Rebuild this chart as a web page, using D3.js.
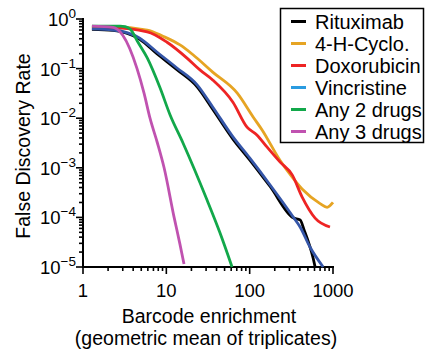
<!DOCTYPE html>
<html>
<head>
<meta charset="utf-8">
<script src="https://cdn.jsdelivr.net/npm/d3@7"></script>
<style>
  body { margin: 0; background: #fff; }
  svg { font-family: "Liberation Sans", Arial, sans-serif; }
</style>
</head>
<body>
<svg id="chart" width="425" height="356"></svg>
<script>
// data: [barcode enrichment, FDR]
var rituximab = [[1.28,0.62],[2.3,0.59],[4.8,0.39],[7.7,0.2],[13.4,0.095],[23.4,0.043],[36,0.0152],[63,0.0038],[100,0.00145],[176,0.00042],[333,0.000098],[403,0.000089],[450,0.000056],[578,0.000015],[610,0.00001]];
var cyclo = [[1.28,0.66],[2.3,0.69],[5.9,0.6],[9.1,0.45],[14.6,0.3],[20.9,0.19],[36,0.085],[71,0.032],[110,0.0106],[141,0.0058],[232,0.0014],[331,0.00062],[435,0.00036],[700,0.00019],[850,0.00016],[1000,0.0002]];
var doxorubicin = [[1.28,0.66],[2.3,0.66],[5.9,0.55],[10.2,0.34],[17.7,0.163],[25.3,0.094],[36,0.059],[63,0.021],[93,0.0066],[122,0.0046],[162,0.0026],[232,0.0013],[324,0.00072],[425,0.00026],[610,0.000097],[920,0.000064]];
var vincristine = [[1.28,0.63],[2.3,0.6],[4.8,0.41],[7.7,0.216],[13.4,0.103],[23.4,0.047],[36,0.0168],[63,0.0042],[100,0.00158],[176,0.00045],[333,0.000102],[403,0.000064],[531,0.000025],[762,0.00001]];
var any2 = [[1.28,0.72],[2.8,0.72],[3.2,0.7],[3.7,0.62],[4.57,0.34],[5.9,0.164],[8.4,0.041],[11.1,0.0116],[15.8,0.0032],[30.8,0.000224],[44,0.000049],[61.5,0.00001]];
var any3 = [[1.28,0.72],[2.3,0.68],[3.0,0.47],[4.45,0.1],[5.4,0.032],[6.37,0.01],[7.8,0.0032],[9.4,0.001],[12.4,0.0001],[14.5,0.00003],[16.3,0.0000115]];

var seriesNames = ["Rituximab", "4-H-Cyclo.", "Doxorubicin", "Vincristine", "Any 2 drugs", "Any 3 drugs"];
var seriesData = [rituximab, cyclo, doxorubicin, vincristine, any2, any3];
var lineColors = ["#000000", "#e6a423", "#ee2424", "#3556a8", "#12a84a", "#c052b0"];
var legendColors = ["#000000", "#e6a423", "#ee2424", "#2a9be0", "#12a84a", "#c052b0"];
var drawOrder = [1, 2, 0, 3, 4, 5];

var xTicks = [1, 10, 100, 1000];
var yExps = [0, -1, -2, -3, -4, -5];

var svg = d3.select("#chart");

var x = d3.scaleLog().domain([1, 1000]).range([83, 333]);
var y = d3.scaleLog().domain([1e-5, 1]).range([267, 19]);

// minor ticks
var xMinor = [], yMinor = [];
for (var d = 1; d < 1000; d *= 10)
  for (var k = 2; k <= 9; k++) xMinor.push(d * k);
for (var e = -5; e < 0; e++)
  for (var k = 2; k <= 9; k++) yMinor.push(k * Math.pow(10, e));

var axes = svg.append("g").attr("stroke", "#000").attr("stroke-width", 1.6);

axes.selectAll("line.xmin").data(xMinor).enter().append("line")
  .attr("x1", d => x(d)).attr("x2", d => x(d))
  .attr("y1", 267).attr("y2", 271);
axes.selectAll("line.xmaj").data(xTicks).enter().append("line")
  .attr("x1", d => x(d)).attr("x2", d => x(d))
  .attr("y1", 267).attr("y2", 274);
axes.selectAll("line.ymin").data(yMinor).enter().append("line")
  .attr("x1", 83).attr("x2", 79)
  .attr("y1", d => y(d)).attr("y2", d => y(d));
axes.selectAll("line.ymaj").data(yExps).enter().append("line")
  .attr("x1", 83).attr("x2", 76)
  .attr("y1", d => y(Math.pow(10, d))).attr("y2", d => y(Math.pow(10, d)));

axes.append("line").attr("x1", 83).attr("x2", 83).attr("y1", 18).attr("y2", 268).attr("stroke-width", 2);
axes.append("line").attr("x1", 82).attr("x2", 334).attr("y1", 267).attr("y2", 267).attr("stroke-width", 2);

// x tick labels
svg.selectAll("text.xt").data(xTicks).enter().append("text")
  .attr("x", d => x(d)).attr("y", 297)
  .attr("text-anchor", "middle").attr("font-size", 18.5)
  .text(d => d);

// y tick labels 10^n
var yl = svg.selectAll("text.yt").data(yExps).enter().append("text")
  .attr("x", 76).attr("y", d => y(Math.pow(10, d)) + 7)
  .attr("text-anchor", "end").attr("font-size", 18.5);
yl.append("tspan").text("10");
yl.append("tspan").attr("font-size", 13.5).attr("dy", -8)
  .text(d => d === 0 ? "0" : "\u2212" + (-d));

// axis titles
svg.append("text").attr("transform", "translate(30,146) rotate(-90)")
  .attr("text-anchor", "middle").attr("font-size", 19.5)
  .text("False Discovery Rate");
svg.append("text").attr("x", 209).attr("y", 323)
  .attr("text-anchor", "middle").attr("font-size", 19.5)
  .text("Barcode enrichment");
svg.append("text").attr("x", 206).attr("y", 345)
  .attr("text-anchor", "middle").attr("font-size", 19.5)
  .text("(geometric mean of triplicates)");

// curves
var line = d3.line().x(d => x(d[0])).y(d => y(d[1])).curve(d3.curveMonotoneX);
svg.append("g").selectAll("path").data(drawOrder).enter().append("path")
  .attr("d", i => line(seriesData[i]))
  .attr("fill", "none")
  .attr("stroke", i => lineColors[i])
  .attr("stroke-width", 2.8)
  .attr("stroke-linejoin", "round");

// legend
var lg = svg.append("g");
lg.append("rect").attr("x", 280.5).attr("y", 8.5).attr("width", 143).attr("height", 134)
  .attr("fill", "#fff").attr("stroke", "#000").attr("stroke-width", 1.5);
var rows = lg.selectAll("g.row").data(seriesNames).enter().append("g")
  .attr("transform", (d, i) => "translate(0," + (21.5 + i * 22) + ")");
rows.append("line").attr("x1", 291).attr("x2", 306)
  .attr("stroke", (d, i) => legendColors[i]).attr("stroke-width", 3);
rows.append("text").attr("x", 315).attr("y", 0).attr("dy", "0.35em")
  .attr("font-size", 20).text(d => d);
</script>
</body>
</html>
